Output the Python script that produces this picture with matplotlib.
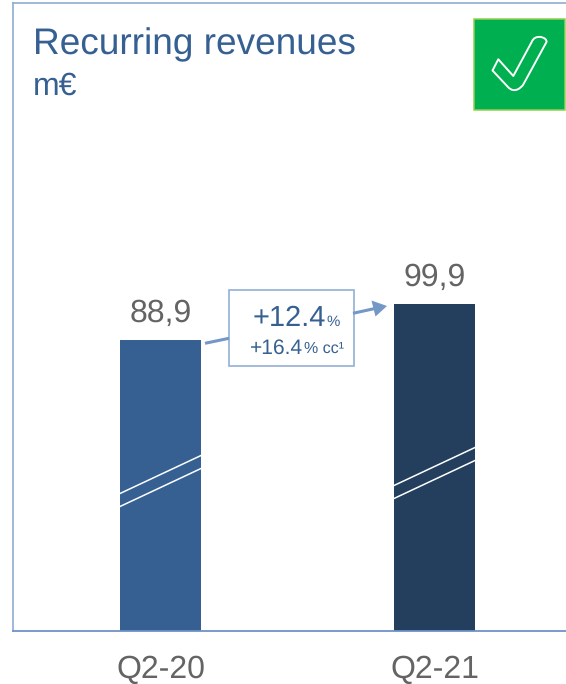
import matplotlib
matplotlib.use('Agg')
import matplotlib.pyplot as plt
from matplotlib.patches import Rectangle, Polygon, PathPatch
from matplotlib.path import Path

plt.rcParams['font.family'] = ['Liberation Sans', 'DejaVu Sans']
plt.rcParams['text.hinting'] = 'no_hinting'
plt.rcParams['text.hinting_factor'] = 1

categories = ['Q2-20', 'Q2-21']
values = [88.9, 99.9]
value_labels = ['88,9', '99,9']
bar_colors = ['#366092', '#243F5E']

BLUE = '#366092'
GREY = '#646464'
FRAME = '#94AFD6'
ARROW = '#7397C6'

W, H = 566, 684
fig = plt.figure(figsize=(W / 100, H / 100), dpi=100)

# axes du graphique, cale sur le cadre de l'image
ax = fig.add_axes([13 / W, (H - 630.5) / H, (W - 13) / W, 627.5 / H])
ax.bar(range(len(values)), values, width=0.2956, color=bar_colors, zorder=2)
ax.set_xlim(-0.5383, 1.4796)
ax.set_ylim(0, 192.0)
ax.set_xticks(range(len(categories)))
ax.set_xticklabels(categories, fontsize=23, color=GREY)
ax.tick_params(axis='x', length=0, pad=17.5)
ax.set_yticks([])
ax.spines['right'].set_visible(False)
ax.spines['top'].set_color('#8FABD4')
ax.spines['left'].set_color('#8FABD4')
ax.spines['bottom'].set_color('#6E92C6')
ax.spines['top'].set_linewidth(1.2)
ax.spines['left'].set_linewidth(1.2)
ax.spines['bottom'].set_linewidth(1.3)

for i in range(len(values)):
    ax.text(i, values[i] + 5.4, value_labels[i], ha='center', va='baseline',
            fontsize=23.2, color=GREY)

# calque en pixels pour les decorations (coupures, fleche, encadre, badge)
over = fig.add_axes([0, 0, 1, 1], zorder=5)
over.set_xlim(0, W)
over.set_ylim(H, 0)
over.axis('off')

over.text(33, 54, 'Recurring revenues', fontsize=26.7, color=BLUE, va='baseline')
over.text(33, 94.5, 'm€', fontsize=22.8, color=BLUE, va='baseline')

# coupures des barres
for x0, x1, y0, y1 in [(120, 201, 493.5, 455.5), (394, 475, 485.5, 447.5)]:
    over.plot([x0, x1], [y0, y1], color='white', lw=1.1)
    over.plot([x0, x1], [y0 + 13, y1 + 13], color='white', lw=1.1)

# fleche et encadre
over.plot([205, 229], [343.3, 338.3], color=ARROW, lw=2.2, solid_capstyle='butt')
over.plot([353, 375], [313.3, 308.5], color=ARROW, lw=2.2, solid_capstyle='butt')
over.add_patch(Polygon([(387, 306), (371.5, 300.5), (375.5, 316.5)], closed=True,
                       fc=ARROW, ec='none'))
over.add_patch(Rectangle((228.5, 290), 125, 75.5, fc='white', ec=FRAME, lw=1.2))
over.text(326, 326, '+12.4', fontsize=20.8, color=BLUE, ha='right', va='baseline')
over.text(326.5, 326, '%', fontsize=10.8, color=BLUE, ha='left', va='baseline')
over.text(303, 353.3, '+16.4', fontsize=15, color=BLUE, ha='right', va='baseline')
over.text(303.5, 353.3, '% cc¹', fontsize=11.3, color=BLUE, ha='left', va='baseline')

# badge vert
over.add_patch(Rectangle((474, 18.5), 91, 91, fc='#00B050', ec='#92D050', lw=1.1))
check_pts = [(498.3, 59.3), (513.3, 76), (531.7, 42), (534, 36), (541, 37), (547, 38.5),
             (546.5, 42), (523, 85), (518, 91), (513, 90), (510, 89.5), (508, 87),
             (492.5, 70.5), (498.3, 59.3)]
check_codes = [Path.MOVETO, Path.LINETO, Path.LINETO, Path.CURVE3, Path.CURVE3, Path.CURVE3,
               Path.CURVE3, Path.LINETO, Path.CURVE3, Path.CURVE3, Path.CURVE3, Path.CURVE3,
               Path.LINETO, Path.CLOSEPOLY]
over.add_patch(PathPatch(Path(check_pts, check_codes), fc='none', ec='white', lw=1.4,
                         joinstyle='round'))

fig.savefig('out.png', dpi=100)
